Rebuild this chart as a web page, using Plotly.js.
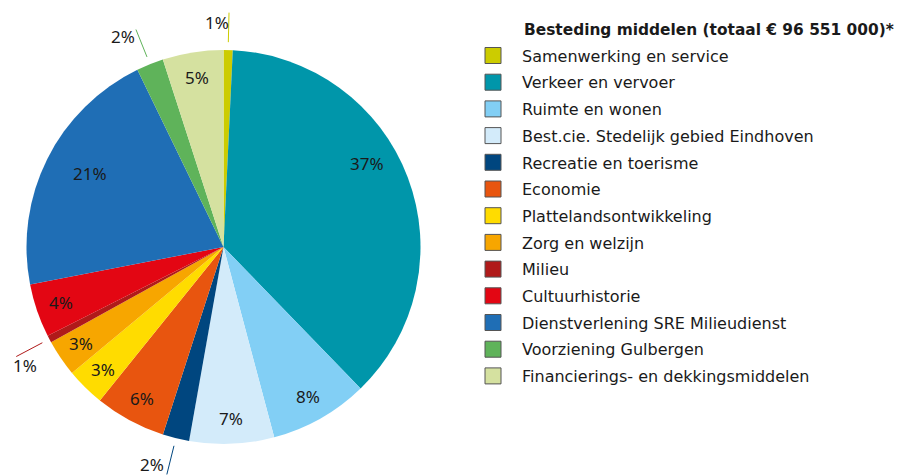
<!DOCTYPE html>
<html>
<head>
<meta charset="utf-8">
<script src="https://cdn.plot.ly/plotly-3.0.1.min.js"></script>
<style>
html,body{margin:0;padding:0;background:#ffffff;}
#chart{width:897px;height:476px;}
</style>
</head>
<body>
<div id="chart"></div>
<script>
// ---------- data ----------
const categories = [
  'Samenwerking en service',
  'Verkeer en vervoer',
  'Ruimte en wonen',
  'Best.cie. Stedelijk gebied Eindhoven',
  'Recreatie en toerisme',
  'Economie',
  'Plattelandsontwikkeling',
  'Zorg en welzijn',
  'Milieu',
  'Cultuurhistorie',
  'Dienstverlening SRE Milieudienst',
  'Voorziening Gulbergen',
  'Financierings- en dekkingsmiddelen'
];
// share of total spending, in percent
const shares = [0.75, 37.0, 8.1, 6.94, 2.18, 5.82, 3.17, 3.0, 0.59, 4.4, 20.84, 2.22, 4.98];
const colors = [
  '#cccc00', '#0096aa', '#82cff5', '#d3ebfa', '#00467f', '#e8550f', '#ffdc00',
  '#f7a600', '#b01a1a', '#e30613', '#1f6eb5', '#5fb35a', '#d5e1a0'
];
const legendTitle = 'Besteding middelen (totaal € 96 551 000)*';
const outsideLabelCats = ['Samenwerking en service', 'Recreatie en toerisme', 'Milieu', 'Voorziening Gulbergen'];

// ---------- layout / style ----------
const W = 897, H = 476;
const CX = 223.5, CY = 247, R = 197;          // pie centre & radius (px)
const insideR = 0.873;                         // label radius (fraction of R)
const labelTweak = {                           // label placement adjustments
  'Verkeer en vervoer': {da: -9.6, r: 0.843},
  'Dienstverlening SRE Milieudienst': {da: 2.4, r: 0.775}
};
const leaderR = [1.04, 1.19];                  // leader line radii (fraction of R)
const outsideOffset = {                        // label offset from leader end (px)
  'Samenwerking en service': [-12, 10],
  'Voorziening Gulbergen': [-13, 7],
  'Milieu': [9, 9],
  'Recreatie en toerisme': [-15, -10]
};
const fx = p => p / W;
const fy = p => 1 - p / H;
const polar = (angDeg, r) => {
  const a = angDeg * Math.PI / 180;
  return [CX + r * Math.sin(a), CY - r * Math.cos(a)];
};

const total = shares.reduce((a, b) => a + b, 0);
let cum = 0;
const midAngles = shares.map(v => { const m = (cum + v / 2) / total * 360; cum += v; return m; });

const labelFont = {family: 'Noto Sans, Open Sans, sans-serif', size: 17, color: '#1a1a1a'};
const annotations = [];
const shapes = [];

categories.forEach((c, i) => {
  const txt = Math.round(shares[i] / total * 100) + '%';
  if (outsideLabelCats.includes(c)) {
    const p1 = polar(midAngles[i], leaderR[0] * R);
    const p2 = polar(midAngles[i], leaderR[1] * R);
    shapes.push({type: 'line', xref: 'paper', yref: 'paper',
      x0: fx(p1[0]), y0: fy(p1[1]), x1: fx(p2[0]), y1: fy(p2[1]),
      line: {color: colors[i], width: 1}});
    const off = outsideOffset[c];
    annotations.push({xref: 'paper', yref: 'paper', x: fx(p2[0] + off[0]), y: fy(p2[1] + off[1]),
      xanchor: 'center', yanchor: 'middle', text: txt, showarrow: false, font: labelFont, borderpad: 0});
  } else {
    const t = labelTweak[c] || {};
    const p = polar(midAngles[i] + (t.da || 0), (t.r || insideR) * R);
    annotations.push({xref: 'paper', yref: 'paper', x: fx(p[0]), y: fy(p[1]),
      xanchor: 'center', yanchor: 'middle', text: txt, showarrow: false, font: labelFont});
  }
});

annotations.push({xref: 'paper', yref: 'paper', x: fx(522), y: fy(30), xanchor: 'left', yanchor: 'middle',
  text: '<b>' + legendTitle + '</b>', showarrow: false,
  font: {family: 'DejaVu Sans, sans-serif', size: 15.4, color: '#1a1a1a'}});

const pieTrace = {
  type: 'pie', labels: categories, values: shares, sort: false, direction: 'clockwise', rotation: 0,
  marker: {colors: colors, line: {width: 0}}, textinfo: 'none', hoverinfo: 'label+percent',
  showlegend: false,
  domain: {x: [fx(CX - R), fx(CX + R)], y: [fy(CY + R), fy(CY - R)]}
};

const legendTraces = categories.map((c, i) => ({
  type: 'scatter', mode: 'markers', x: [null], y: [null], name: c, legendgroup: c,
  marker: {symbol: 'square', size: 16, color: colors[i], line: {color: '#555555', width: 1}},
  hoverinfo: 'skip'
}));

const layout = {
  width: W, height: H,
  margin: {l: 0, r: 0, t: 0, b: 0, pad: 0},
  paper_bgcolor: '#ffffff', plot_bgcolor: '#ffffff',
  xaxis: {visible: false}, yaxis: {visible: false},
  showlegend: true,
  legend: {
    x: fx(464), xanchor: 'left', y: fy(38.6), yanchor: 'top',
    itemwidth: 48, tracegroupgap: 2.9, borderwidth: 0, bgcolor: 'rgba(0,0,0,0)',
    font: {family: 'DejaVu Sans, sans-serif', size: 16, color: '#1a1a1a'}
  },
  annotations: annotations,
  shapes: shapes
};

Plotly.newPlot('chart', [pieTrace].concat(legendTraces), layout, {displayModeBar: false, staticPlot: true});
</script>
</body>
</html>
